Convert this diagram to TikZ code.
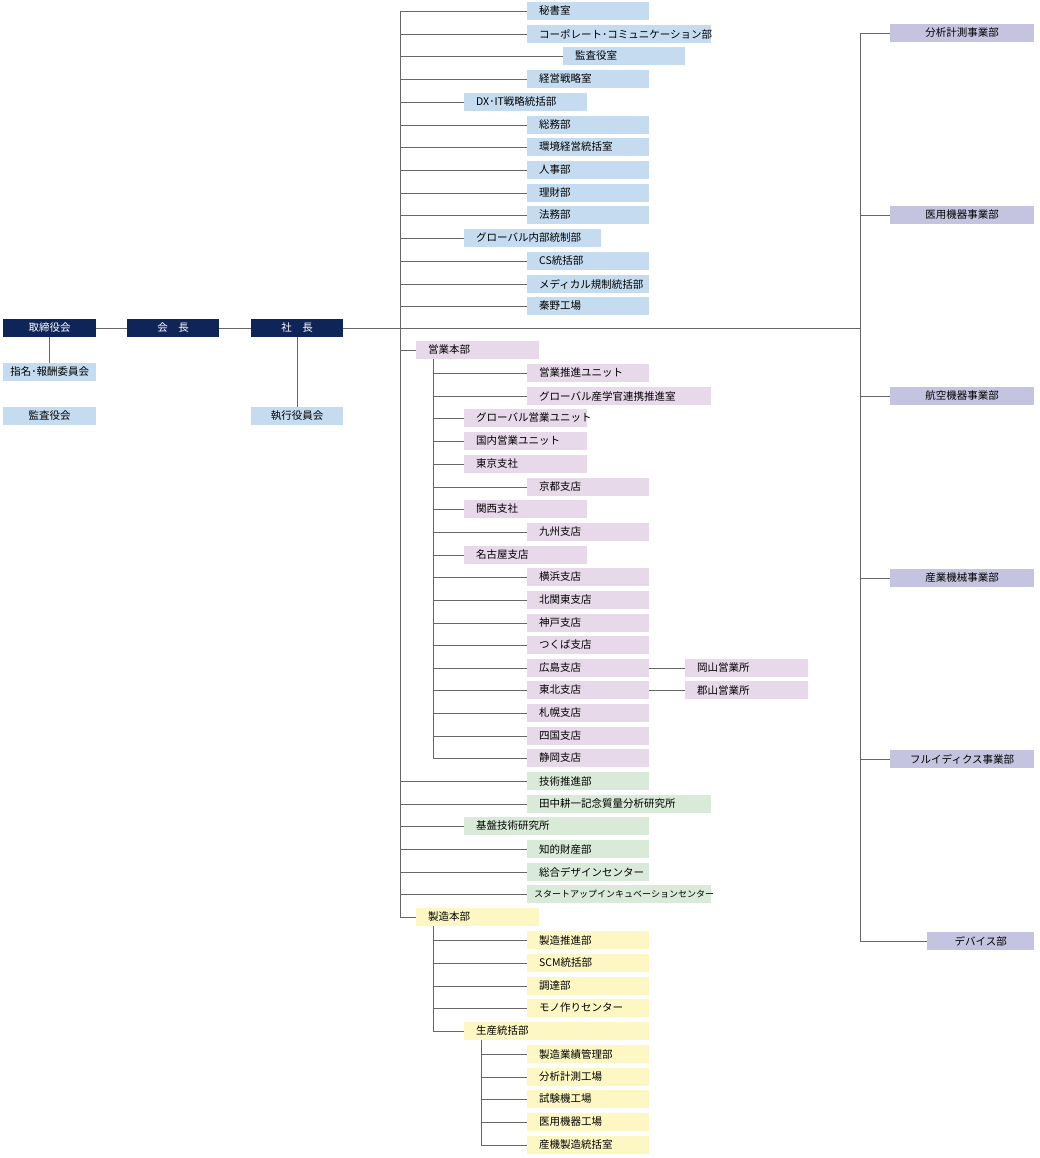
\documentclass[tikz,border=0pt]{standalone}
\usepackage{fontspec}
\setmainfont{Noto Sans CJK JP}
\begin{document}
\begin{tikzpicture}[x=1pt,y=-1pt,
  ln/.style={draw=black!60,line width=0.8pt},
  bb/.style={inner ysep=0pt,minimum height=18pt,font=\fontsize{10.5}{12}\selectfont,anchor=west},
  blu/.style={bb,fill=blue!35!cyan!25!white,fill={rgb,255:red,197;green,220;blue,240}},
  nav/.style={bb,fill={rgb,255:red,15;green,37;blue,87},text=white},
  pnk/.style={bb,fill={rgb,255:red,232;green,217;blue,234}},
  grn/.style={bb,fill={rgb,255:red,217;green,234;blue,217}},
  yel/.style={bb,fill={rgb,255:red,253;green,247;blue,195}},
  lav/.style={bb,fill={rgb,255:red,196;green,196;blue,224}}]
\useasboundingbox (0,0) rectangle (1040,1158);
% macro: name, style, x1, x2, y, text, trunk coordinate
\newcommand\bx[7]{%
  \pgfmathsetmacro\bw{#4-#3}\pgfmathsetmacro\tw{#4-#3-24}%
  \node[#2,minimum width=\bw pt,text width=\tw pt,inner xsep=12pt,align=left] (#1) at (#3,#5) {#6};
  \draw[ln] (#1.west -| #7) -- (#1.west);}
\newcommand\cb[6]{%
  \pgfmathsetmacro\bw{#4-#3}%
  \node[#2,minimum width=\bw pt,inner xsep=0pt,align=center] (#1) at (#3,#5) {#6};}
\coordinate (T) at (400,0);
\coordinate (P) at (433,0);
\coordinate (Q) at (481,0);
\coordinate (R) at (860,0);
% top
\cb{tori}{nav}{3}{96}{328}{取締役会}
\cb{kaicho}{nav}{127}{219}{328}{会\quad 長}
\cb{shacho}{nav}{251}{343}{328}{社\quad 長}
\cb{shimei}{blu}{3}{96}{372}{指名･報酬委員会}
\cb{kansa}{blu}{3}{96}{416}{監査役会}
\cb{shikko}{blu}{251}{343}{416}{執行役員会}
\draw[ln] (tori) -- (kaicho);
\draw[ln] (kaicho) -- (shacho);
\draw[ln] (tori) -- (shimei);
\draw[ln] (shacho) -- (shikko);
\draw[ln] (shacho.east) -- (shacho.east -| R);
% blue
\bx{b1}{blu}{527}{649}{11}{秘書室}{T}
\bx{b2}{blu}{527}{711}{34}{コーポレート･コミュニケーション部}{T}
\bx{b3}{blu}{563}{685}{56}{監査役室}{T}
\bx{b4}{blu}{527}{649}{79}{経営戦略室}{T}
\bx{b5}{blu}{464}{587}{102}{DX･IT戦略統括部}{T}
\bx{b6}{blu}{527}{649}{125}{総務部}{T}
\bx{b7}{blu}{527}{649}{147}{環境経営統括室}{T}
\bx{b8}{blu}{527}{649}{170}{人事部}{T}
\bx{b9}{blu}{527}{649}{193}{理財部}{T}
\bx{b10}{blu}{527}{649}{215}{法務部}{T}
\bx{b11}{blu}{464}{601}{238}{グローバル内部統制部}{T}
\bx{b12}{blu}{527}{649}{261}{CS統括部}{T}
\bx{b13}{blu}{527}{649}{284}{メディカル規制統括部}{T}
\bx{b14}{blu}{527}{649}{306}{秦野工場}{T}
% pink
\bx{eigyo}{pnk}{416}{539}{350}{営業本部}{T}
\bx{p1}{pnk}{527}{649}{373}{営業推進ユニット}{P}
\bx{p2}{pnk}{527}{711}{396}{グローバル産学官連携推進室}{P}
\bx{p3}{pnk}{464}{587}{418}{グローバル営業ユニット}{P}
\bx{p4}{pnk}{464}{587}{441}{国内営業ユニット}{P}
\bx{p5}{pnk}{464}{587}{464}{東京支社}{P}
\bx{p6}{pnk}{527}{649}{487}{京都支店}{P}
\bx{p7}{pnk}{464}{587}{509}{関西支社}{P}
\bx{p8}{pnk}{527}{649}{532}{九州支店}{P}
\bx{p9}{pnk}{464}{587}{555}{名古屋支店}{P}
\bx{p10}{pnk}{527}{649}{577}{横浜支店}{P}
\bx{p11}{pnk}{527}{649}{600}{北関東支店}{P}
\bx{p12}{pnk}{527}{649}{623}{神戸支店}{P}
\bx{p13}{pnk}{527}{649}{645}{つくば支店}{P}
\bx{p14}{pnk}{527}{649}{668}{広島支店}{P}
\bx{p15}{pnk}{527}{649}{690}{東北支店}{P}
\bx{p16}{pnk}{527}{649}{713}{札幌支店}{P}
\bx{p17}{pnk}{527}{649}{736}{四国支店}{P}
\bx{p18}{pnk}{527}{649}{758}{静岡支店}{P}
\bx{okayama}{pnk}{685}{808}{668}{岡山営業所}{p14.east}
\bx{koriyama}{pnk}{685}{808}{690}{郡山営業所}{p15.east}
\draw[ln] (eigyo.south -| P) -- (P |- p18.west);
% green
\bx{g1}{grn}{527}{649}{781}{技術推進部}{T}
\bx{g2}{grn}{527}{711}{804}{田中耕一記念質量分析研究所}{T}
\bx{g3}{grn}{464}{649}{826}{基盤技術研究所}{T}
\bx{g4}{grn}{527}{649}{849}{知的財産部}{T}
\bx{g5}{grn}{527}{649}{872}{総合デザインセンター}{T}
\node[grn,minimum width=184pt,text width=170pt,inner xsep=7pt,align=left,font=\fontsize{9}{10}\selectfont] (g6) at (527,894) {スタートアップインキュベーションセンター};
\draw[ln] (g6.west -| T) -- (g6.west);
% yellow
\bx{seizo}{yel}{416}{539}{917}{製造本部}{T}
\bx{y1}{yel}{527}{649}{940}{製造推進部}{P}
\bx{y2}{yel}{527}{649}{963}{SCM統括部}{P}
\bx{y3}{yel}{527}{649}{986}{調達部}{P}
\bx{y4}{yel}{527}{649}{1008}{モノ作りセンター}{P}
\bx{seisan}{yel}{464}{649}{1031}{生産統括部}{P}
\bx{y5}{yel}{527}{649}{1054}{製造業績管理部}{Q}
\bx{y6}{yel}{527}{649}{1077}{分析計測工場}{Q}
\bx{y7}{yel}{527}{649}{1099}{試験機工場}{Q}
\bx{y8}{yel}{527}{649}{1122}{医用機器工場}{Q}
\bx{y9}{yel}{527}{649}{1145}{産機製造統括室}{Q}
\draw[ln] (seizo.south -| P) -- (P |- seisan.west);
\draw[ln] (seisan.south -| Q) -- (Q |- y9.west);
\draw[ln] (T |- b1.west) -- (T |- seizo.west);
% right
\cb{r1}{lav}{890}{1034}{33}{分析計測事業部}
\cb{r2}{lav}{890}{1034}{215}{医用機器事業部}
\cb{r3}{lav}{890}{1034}{396}{航空機器事業部}
\cb{r4}{lav}{890}{1034}{578}{産業機械事業部}
\cb{r5}{lav}{890}{1034}{759}{フルイディクス事業部}
\cb{r6}{lav}{927}{1034}{941}{デバイス部}
\foreach \r in {r1,r2,r3,r4,r5,r6} \draw[ln] (\r.west -| R) -- (\r.west);
\draw[ln] (R |- r1.west) -- (R |- r6.west);
\end{tikzpicture}
\end{document}
